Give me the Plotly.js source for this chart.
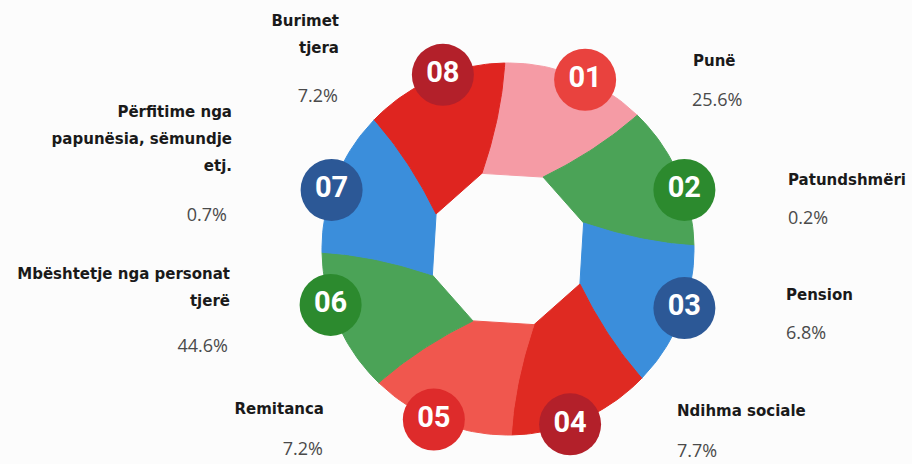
<!DOCTYPE html>
<html>
<head>
<meta charset="utf-8">
<script src="https://cdn.plot.ly/plotly-3.0.1.min.js"></script>
<style>
  html, body { margin: 0; padding: 0; background: #fcfcfc; }
  #chart { width: 912px; height: 464px; }
</style>
</head>
<body>
<div id="chart"></div>
<script>
// income sources, clockwise from the top of the ring
const categories = [
  'Punë',
  'Patundshmëri',
  'Pension',
  'Ndihma sociale',
  'Remitanca',
  'Mbështetje nga personat<br>tjerë',
  'Përfitime nga<br>papunësia, sëmundje<br>etj.',
  'Burimet<br>tjera'
];
const shares = [25.6, 0.2, 6.8, 7.7, 7.2, 44.6, 0.7, 7.2];
const badgeLabels = ['01', '02', '03', '04', '05', '06', '07', '08'];
// the ring is decorative: every slice is drawn the same size
const sliceWeights = [1, 1, 1, 1, 1, 1, 1, 1];

const sliceColors = ['#f59ba5', '#4ba357', '#3b8edb', '#df2a22', '#f0574e', '#4ba357', '#3b8edb', '#df2520'];
const badgeColors = ['#e9423e', '#2c8a2e', '#2c5896', '#b3202a', '#de2b2b', '#2c8a2e', '#2c5896', '#b3202a'];

// ring geometry, in page pixels
const CX = 508, CY = 249, R_OUT = 186, R_IN = 80;
const START = 91, TWIST = 18;
const badgeNudge = [-3, -5, 3, -4, -2, -6, 3, -3];

// label placement (y is the middle of the label block)
const labelX = [693, 788, 786, 677, 324, 230, 232, 339];
const labelY = [62, 181, 296, 412, 410, 289, 140, 36];
const pctX = [692, 788, 786, 677, 323, 228, 227, 338];
const pctY = [101, 219, 334, 452, 450, 347, 216, 97];
const leftSide = [false, false, false, false, true, true, true, true];
const LINE_GAP = 27;

const LABEL_FONT = '"DejaVu Sans", sans-serif';
const BADGE_FONT = 'Roboto, "Liberation Sans", sans-serif';

const rad = d => d * Math.PI / 180;
const pt = (ang, r) => [CX + r * Math.cos(rad(ang)), CY - r * Math.sin(rad(ang))];

// edge between two slices: leaves the rim radially, then bends towards the hole
function edge(a, inward) {
  const p0 = pt(a, R_OUT);
  const c = pt(a + TWIST * 0.1, (R_OUT + R_IN) / 2);
  const p1 = pt(a + TWIST, R_IN);
  const out = [];
  for (let k = 0; k <= 24; k++) {
    const t = inward ? k / 24 : 1 - k / 24;
    const u = 1 - t;
    out.push([
      u * u * p0[0] + 2 * u * t * c[0] + t * t * p1[0],
      u * u * p0[1] + 2 * u * t * c[1] + t * t * p1[1]
    ]);
  }
  return out;
}

const total = sliceWeights.reduce((s, v) => s + v, 0);
const traces = [];
const badgeX = [], badgeY = [];
let acc = 0;

sliceWeights.forEach((w, i) => {
  const a0 = START - acc / total * 360;
  const a1 = a0 - w / total * 360;
  acc += w;
  let poly = [];
  for (let k = 0; k <= 30; k++) poly.push(pt(a1 + (a0 - a1) * k / 30, R_OUT));
  poly = poly.concat(edge(a0, true));
  poly.push(pt(a1 + TWIST, R_IN));
  poly = poly.concat(edge(a1, false));
  traces.push({
    type: 'scatter',
    mode: 'lines',
    x: poly.map(p => p[0]),
    y: poly.map(p => p[1]),
    fill: 'toself',
    fillcolor: sliceColors[i],
    line: { color: sliceColors[i], width: 1 },
    hoverinfo: 'skip'
  });
  const b = pt((a0 + a1) / 2 + badgeNudge[i], R_OUT);
  badgeX.push(b[0]);
  badgeY.push(b[1]);
});

traces.push({
  type: 'scatter',
  mode: 'markers+text',
  x: badgeX,
  y: badgeY,
  text: badgeLabels,
  textposition: 'middle center',
  textfont: { family: BADGE_FONT, size: 29, color: '#ffffff', weight: 'bold' },
  marker: { size: 62, color: badgeColors, line: { width: 0 } },
  hoverinfo: 'skip'
});

// text labels as scatter text, so the ragged edge uses the svg text anchor
function textTrace(side, bold) {
  const x = [], y = [], text = [];
  categories.forEach((c, i) => {
    if (leftSide[i] !== side) return;
    if (bold) {
      const lines = c.normalize('NFC').split('<br>');
      lines.forEach((line, j) => {
        x.push(labelX[i]);
        y.push(labelY[i] + (j - (lines.length - 1) / 2) * LINE_GAP);
        text.push('<b>' + line + '</b>');
      });
    } else {
      x.push(pctX[i]);
      y.push(pctY[i]);
      text.push(shares[i].toFixed(1) + '%');
    }
  });
  return {
    type: 'scatter',
    mode: 'text',
    x, y, text,
    textposition: side ? 'middle left' : 'middle right',
    textfont: bold
      ? { family: LABEL_FONT, size: 15, color: '#1a1a1a' }
      : { family: '"Open Sans", sans-serif', size: 18, color: '#4a4a4a' },
    hoverinfo: 'skip'
  };
}

traces.push(textTrace(true, true), textTrace(false, true), textTrace(true, false), textTrace(false, false));

const layout = {
  width: 912,
  height: 464,
  margin: { l: 0, r: 0, t: 0, b: 0 },
  paper_bgcolor: '#fcfcfc',
  plot_bgcolor: '#fcfcfc',
  showlegend: false,
  hovermode: false,
  xaxis: { range: [0, 912], visible: false, fixedrange: true },
  yaxis: { range: [464, 0], visible: false, fixedrange: true }
};

Plotly.newPlot('chart', traces, layout, { displayModeBar: false, staticPlot: true });
</script>
</body>
</html>
